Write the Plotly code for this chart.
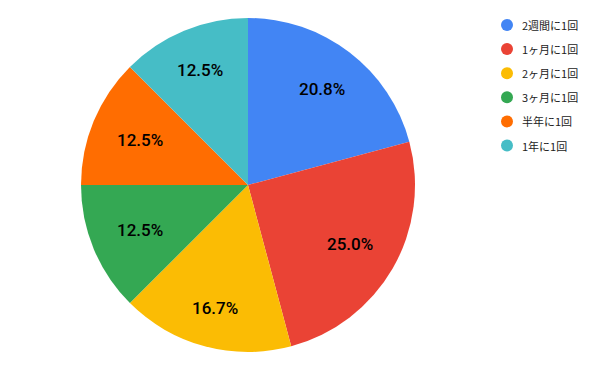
import math
import plotly.graph_objects as go

labels = ["2週間に1回", "1ヶ月に1回", "2ヶ月に1回", "3ヶ月に1回", "半年に1回", "1年に1回"]
values = [5, 6, 4, 3, 3, 3]
colors = ["#4285F4", "#EA4335", "#FBBC04", "#34A853", "#FF6D01", "#46BDC6"]

W, H = 600, 371
cx, cy, R = 248, 185, 167
total = sum(values)
LABEL_SIZE = 17

fig = go.Figure()
fig.add_trace(go.Pie(
    labels=labels, values=values, sort=False, direction="clockwise", rotation=0,
    marker=dict(colors=colors, line=dict(width=0)),
    textinfo="none",
    domain=dict(x=[(cx - R) / W, (cx + R) / W], y=[1 - (cy + R) / H, 1 - (cy - R) / H]),
    showlegend=False, hoverinfo="label+percent",
))

def text_width(s, size):
    w = {".": 0.278, "%": 0.889}
    return sum(w.get(ch, 0.556) for ch in s) * size

# percentage labels: farthest corner of text box sits at fixed radius
annotations = []
rmax = 0.848 * R
cum = 0
for v in values:
    mid = (cum + v / 2) / total * 2 * math.pi
    cum += v
    txt = f"{v / total * 100:.1f}%"
    a = text_width(txt, LABEL_SIZE) / 2
    b = 6.5
    sx, sy = abs(math.sin(mid)), abs(math.cos(mid))
    p = a * sx + b * sy
    d = -p + math.sqrt(p * p - (a * a + b * b - rmax * rmax))
    x = cx + d * math.sin(mid)
    y = cy - d * math.cos(mid)
    annotations.append(dict(
        x=x, y=y, xref="x", yref="y", text=txt, showarrow=False,
        font=dict(family="Roboto, Arial, sans-serif", size=LABEL_SIZE, color="#000000", weight=500),
        xanchor="center", yanchor="middle",
    ))

# custom legend
leg_x, leg_y0, leg_dy = 507, 25, 24.1
fig.add_trace(go.Scatter(
    x=[leg_x] * len(labels), y=[leg_y0 + i * leg_dy for i in range(len(labels))],
    mode="markers", marker=dict(color=colors, size=12, symbol="circle"),
    showlegend=False, hoverinfo="skip",
))
for i, lab in enumerate(labels):
    annotations.append(dict(
        x=leg_x + 13, y=leg_y0 + i * leg_dy, xref="x", yref="y", text=lab, showarrow=False,
        font=dict(family="Noto Sans CJK JP, sans-serif", size=11, color="#222222"),
        xanchor="left", yanchor="middle",
    ))

fig.update_layout(
    width=W, height=H, margin=dict(l=0, r=0, t=0, b=0),
    paper_bgcolor="white", plot_bgcolor="rgba(0,0,0,0)",
    xaxis=dict(visible=False, range=[0, W], domain=[0, 1], fixedrange=True),
    yaxis=dict(visible=False, range=[H, 0], domain=[0, 1], fixedrange=True),
    annotations=annotations,
)
fig.write_html("out.html")
